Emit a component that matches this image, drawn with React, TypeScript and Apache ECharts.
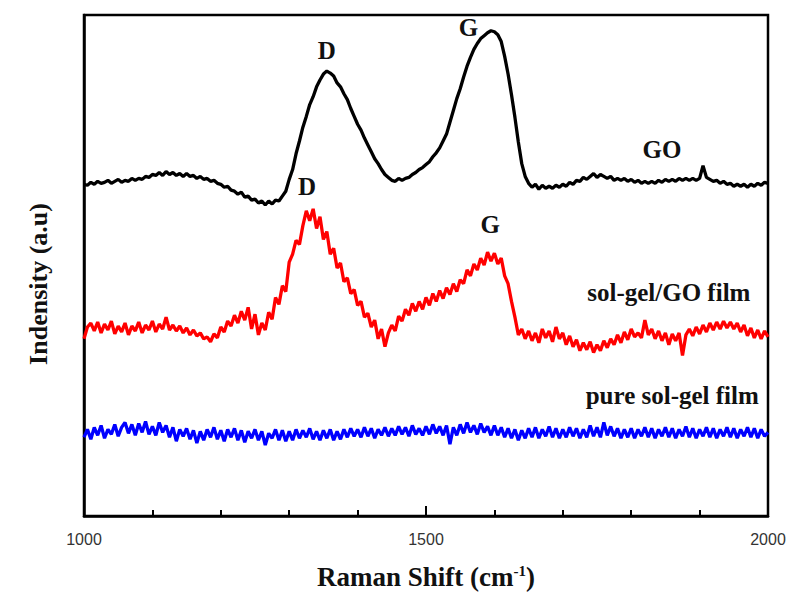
import React, { useEffect, useRef } from "react";
import * as echarts from "echarts";

// Raman shift sampling: first value at 1000 cm-1, one value every 5 cm-1 up to 2000 cm-1
const shiftStart = 1000;
const shiftStep = 5;
const xTicks = [1000, 1500, 2000];

// GO spectrum (arbitrary intensity units, offset stack)
const goValues = [
  337, 336, 339, 337, 340, 338, 339, 341, 338, 340,
  342, 339, 341, 340, 343, 341, 343, 342, 345, 344,
  347, 346, 349, 346, 350, 347, 349, 346, 348, 345,
  348, 345, 346, 343, 345, 342, 343, 340, 341, 338,
  337, 334, 335, 331, 330, 327, 329, 324, 325, 321,
  322, 318, 320, 316, 320, 317, 321, 320, 325, 330,
  342, 352, 368, 381, 395, 406, 418, 426, 436, 443,
  449, 452, 450, 447, 440, 436, 429, 423, 414, 406,
  398, 392, 384, 377, 370, 363, 358, 352, 347, 344,
  341, 340, 343, 341, 343, 344, 347, 349, 352, 354,
  357, 360, 365, 369, 374, 381, 388, 400, 412, 424,
  434, 446, 457, 466, 474, 480, 485, 488, 491, 493,
  492, 489, 482, 467, 449, 428, 405, 380, 358, 345,
  338, 334, 337, 332, 336, 333, 335, 333, 336, 334,
  337, 335, 339, 337, 341, 340, 344, 342, 345, 348,
  344, 347, 345, 343, 345, 341, 343, 341, 343, 340,
  342, 339, 341, 338, 340, 338, 340, 338, 341, 339,
  342, 340, 342, 340, 343, 341, 343, 341, 343, 341,
  343, 356, 344, 342, 340, 341, 338, 340, 337, 338,
  335, 337, 335, 337, 334, 337, 335, 338, 336, 339,
  338,
];

// sol-gel/GO film spectrum
const solGelGoValues = [
  180, 192, 196, 188, 197, 186, 195, 189, 198, 185,
  193, 187, 196, 184, 193, 188, 197, 186, 194, 189,
  198, 187, 195, 190, 202, 189, 194, 188, 193, 186,
  191, 184, 189, 183, 186, 180, 182, 177, 185, 181,
  192, 187, 198, 193, 204, 196, 208, 199, 212, 190,
  205, 184, 196, 189, 207, 200, 222, 215, 234, 228,
  258, 266, 280, 276, 295, 310, 300, 312, 292, 304,
  281, 289, 266, 272, 252, 257, 238, 242, 226, 230,
  214, 218, 202, 206, 192, 199, 180, 190, 172, 186,
  194, 188, 203, 198, 210, 204, 216, 208, 218, 210,
  222, 214, 226, 218, 229, 221, 232, 225, 236, 228,
  240, 236, 250, 244, 256, 250, 262, 255, 268, 259,
  267, 256, 262, 244, 236, 218, 202, 184, 190, 180,
  188, 178, 186, 176, 190, 181, 188, 177, 192, 180,
  186, 174, 183, 172, 179, 168, 176, 169, 177, 166,
  174, 168, 178, 171, 180, 174, 184, 176, 187, 179,
  190, 182, 186, 181, 199, 184, 190, 180, 188, 178,
  186, 174, 185, 178, 186, 163, 184, 190, 183, 192,
  185, 194, 187, 196, 189, 197, 190, 198, 191, 197,
  190, 196, 187, 194, 183, 191, 181, 189, 180, 188,
  182,
];

// pure sol-gel film spectrum
const pureSolGelValues = [
  80, 88, 78, 90, 82, 92, 79, 88, 83, 93,
  81, 90, 95, 84, 93, 82, 94, 85, 96, 83,
  91, 82, 95, 85, 92, 80, 90, 76, 88, 81,
  89, 78, 87, 74, 86, 77, 88, 80, 90, 78,
  87, 76, 88, 80, 89, 77, 87, 75, 86, 79,
  88, 77, 86, 72, 84, 79, 88, 77, 87, 76,
  86, 77, 88, 79, 87, 80, 89, 78, 86, 77,
  87, 79, 88, 77, 86, 78, 88, 80, 89, 81,
  88, 80, 90, 81, 89, 79, 88, 82, 90, 81,
  89, 82, 91, 83, 90, 81, 92, 83, 89, 82,
  91, 83, 93, 84, 91, 82, 92, 73, 90, 82,
  93, 84, 95, 85, 92, 83, 94, 85, 91, 82,
  92, 82, 90, 80, 89, 79, 88, 77, 87, 79,
  89, 80, 90, 79, 88, 81, 91, 80, 89, 79,
  88, 80, 90, 81, 89, 79, 88, 80, 92, 81,
  90, 80, 95, 82, 91, 81, 89, 79, 88, 80,
  89, 79, 88, 81, 90, 80, 89, 79, 88, 81,
  90, 80, 89, 79, 88, 81, 91, 80, 89, 79,
  88, 81, 90, 80, 89, 79, 88, 81, 90, 80,
  89, 79, 88, 81, 90, 80, 89, 79, 88, 81,
  85,
];

// Annotations: [text, shift, intensity]
const goLabels: [string, number, number][] = [
  ["D", 1355, 473],
  ["G", 1562, 496],
  ["GO", 1845, 372],
];
const solGelGoLabels: [string, number, number][] = [
  ["D", 1326, 335],
  ["G", 1594, 296],
  ["sol-gel/GO film", 1855, 227],
];
const pureSolGelLabels: [string, number, number][] = [
  ["pure sol-gel film", 1860, 122],
];

const xTitle = "Raman Shift (cm{sup|-1})";
const yTitle = "Indensity (a.u)";

const serif = "'Liberation Serif', 'Times New Roman', serif";

function toPairs(values: number[]) {
  return values.map((v, i) => [shiftStart + i * shiftStep, v]);
}

function marks(labels: [string, number, number][]) {
  return {
    symbol: "circle",
    symbolSize: 0,
    silent: true,
    label: {
      show: true,
      position: "inside",
      formatter: "{b}",
      color: "#111",
      fontFamily: serif,
      fontWeight: "bold",
      fontSize: 25,
    },
    data: labels.map(([name, x, y]) => ({ name, coord: [x, y] })),
  };
}

export default function App() {
  const ref = useRef<HTMLDivElement>(null);
  useEffect(() => {
    if (!ref.current) return;
    const chart = echarts.init(ref.current, undefined, { renderer: "svg" });
    const mk = (name: string, values: number[], color: string, labels: [string, number, number][]) => ({
      name,
      type: "line",
      data: toPairs(values),
      showSymbol: false,
      symbol: "none",
      lineStyle: { color, width: 3.3 },
      itemStyle: { color },
      markPoint: marks(labels),
      z: 3,
    });
    chart.setOption({
      animation: false,
      backgroundColor: "#fff",
      grid: {
        left: 84,
        right: 22,
        top: 15,
        bottom: 71,
        show: true,
        borderColor: "#000",
        borderWidth: 2.5,
      },
      graphic: [
        {
          type: "text",
          x: 38,
          y: 284,
          rotation: Math.PI / 2,
          style: {
            text: yTitle,
            fill: "#111",
            font: `bold 26px ${serif}`,
            textAlign: "center",
            textVerticalAlign: "middle",
          },
        },
      ],
      xAxis: {
        type: "value",
        min: xTicks[0],
        max: xTicks[xTicks.length - 1],
        interval: 500,
        axisLine: { show: true, lineStyle: { color: "#000", width: 2.5 } },
        axisTick: { show: true, inside: true, length: 10, lineStyle: { color: "#000", width: 2 } },
        minorTick: { show: true, splitNumber: 5, length: 6, lineStyle: { color: "#000", width: 2 } },
        splitLine: { show: false },
        axisLabel: {
          color: "#333",
          fontSize: 16,
          fontFamily: "'Liberation Sans', Arial, sans-serif",
          margin: 15,
          formatter: (v: number) => String(v),
        },
        name: xTitle,
        nameLocation: "middle",
        nameGap: 47,
        nameTextStyle: {
          color: "#111",
          fontFamily: serif,
          fontWeight: "bold",
          fontSize: 27,
          rich: {
            sup: {
              fontFamily: serif,
              fontWeight: "bold",
              fontSize: 15,
              color: "#111",
              verticalAlign: "top",
              padding: [0, 0, 12, 0],
            },
          },
        },
      },
      yAxis: {
        type: "value",
        min: 0,
        max: 509,
        axisLine: { show: true, lineStyle: { color: "#000", width: 2.5 } },
        axisTick: { show: false },
        axisLabel: { show: false },
        splitLine: { show: false },
      },
      series: [
        mk("GO", goValues, "#000000", goLabels),
        mk("sol-gel/GO film", solGelGoValues, "#ff0000", solGelGoLabels),
        mk("pure sol-gel film", pureSolGelValues, "#0000ff", pureSolGelLabels),
      ],
    });
    return () => chart.dispose();
  }, []);
  return (
    <div
      ref={ref}
      style={{ position: "fixed", left: 0, top: 0, width: 790, height: 595, background: "#fff" }}
    />
  );
}
